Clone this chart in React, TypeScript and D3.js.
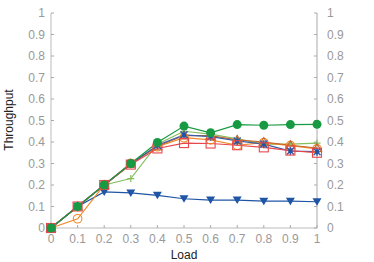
import { useEffect, useRef } from "react";
import * as d3 from "d3";

const loads = [0, 0.1, 0.2, 0.3, 0.4, 0.5, 0.6, 0.7, 0.8, 0.9, 1];
const yTicks = [0, 0.1, 0.2, 0.3, 0.4, 0.5, 0.6, 0.7, 0.8, 0.9, 1];

const blueTri = [0, 0.1, 0.168, 0.163, 0.152, 0.136, 0.13, 0.13, 0.125, 0.125, 0.122];
const greenDot = [0, 0.1, 0.2, 0.3, 0.398, 0.474, 0.443, 0.481, 0.478, 0.481, 0.482];
const lightGreenPlus = [0, 0.1, 0.2, 0.23, 0.39, 0.45, 0.437, 0.415, 0.39, 0.39, 0.395];
const orangeCircle = [0, 0.043, 0.2, 0.3, 0.378, 0.42, 0.41, 0.385, 0.397, 0.383, 0.368];
const blueStar = [0, 0.1, 0.2, 0.298, 0.385, 0.433, 0.425, 0.405, 0.39, 0.358, 0.355];
const brownTri = [0, 0.1, 0.2, 0.3, 0.38, 0.43, 0.43, 0.41, 0.4, 0.385, 0.372];
const redSquare = [0, 0.1, 0.2, 0.295, 0.37, 0.395, 0.393, 0.385, 0.375, 0.36, 0.35];

const App = () => {
    const ref = useRef<SVGSVGElement>(null);

    useEffect(() => {
        const svg = d3.select(ref.current);
        svg.selectAll("*").remove();

        const x = d3.scaleLinear().domain([0, 1]).range([51, 317]);
        const y = d3.scaleLinear().domain([0, 1]).range([228, 13]);
        const grey = "#999";
        const font = "Liberation Sans, Arial, sans-serif";

        // frame: left, bottom, right
        svg.append("line").attr("x1", 51).attr("x2", 51).attr("y1", 13).attr("y2", 228)
            .attr("stroke", "#bbb").attr("stroke-width", 1);
        svg.append("line").attr("x1", 51).attr("x2", 317).attr("y1", 228).attr("y2", 228)
            .attr("stroke", "#bbb").attr("stroke-width", 1);
        svg.append("line").attr("x1", 317).attr("x2", 317).attr("y1", 13).attr("y2", 228)
            .attr("stroke", "#d4d4d4").attr("stroke-width", 2);

        yTicks.forEach(t => {
            svg.append("line").attr("x1", 51).attr("x2", 54).attr("y1", y(t)).attr("y2", y(t)).attr("stroke", "#aaa");
            svg.append("line").attr("x1", 314).attr("x2", 317).attr("y1", y(t)).attr("y2", y(t)).attr("stroke", "#aaa");
            svg.append("text").attr("x", 45).attr("y", y(t)).attr("dy", "0.35em")
                .attr("text-anchor", "end").attr("fill", grey)
                .style("font-family", font).style("font-size", "12px").text(String(t));
            svg.append("text").attr("x", 327).attr("y", y(t)).attr("dy", "0.35em")
                .attr("text-anchor", "start").attr("fill", grey)
                .style("font-family", font).style("font-size", "12px").text(String(t));
        });
        loads.forEach(t => {
            svg.append("line").attr("x1", x(t)).attr("x2", x(t)).attr("y1", 225).attr("y2", 228).attr("stroke", "#aaa");
            svg.append("text").attr("x", x(t)).attr("y", 243).attr("text-anchor", "middle")
                .attr("fill", grey).style("font-family", font).style("font-size", "12px").text(String(t));
        });

        svg.append("text").attr("x", 184).attr("y", 259).attr("text-anchor", "middle")
            .attr("fill", "#222").style("font-family", font).style("font-size", "12px").text("Load");
        svg.append("text").attr("transform", "translate(13,120) rotate(-90)")
            .attr("text-anchor", "middle").attr("fill", "#222")
            .style("font-family", font).style("font-size", "12px").text("Throughput");

        const line = d3.line<number>().x((d, i) => x(loads[i])).y(d => y(d));

        const series = [
            { data: blueTri, color: "#1f55a5", marker: "triDown" },
            { data: lightGreenPlus, color: "#86bd5e", marker: "plus" },
            { data: orangeCircle, color: "#f0892a", marker: "circleOpen" },
            { data: brownTri, color: "#c6642c", marker: "triUp" },
            { data: blueStar, color: "#3a5fa8", marker: "star" },
            { data: redSquare, color: "#e8474c", marker: "square" },
            { data: greenDot, color: "#179a42", marker: "circle" },
        ];

        series.forEach(s => {
            svg.append("path").datum(s.data).attr("d", line)
                .attr("fill", "none").attr("stroke", s.color).attr("stroke-width", 1.2);
        });

        series.forEach(s => {
            const g = svg.append("g");
            s.data.forEach((v, i) => {
                const cx = x(loads[i]);
                const cy = y(v);
                if (s.marker === "circle") {
                    g.append("circle").attr("cx", cx).attr("cy", cy).attr("r", 4.5).attr("fill", s.color);
                } else if (s.marker === "circleOpen") {
                    g.append("circle").attr("cx", cx).attr("cy", cy).attr("r", 4.3)
                        .attr("fill", "none").attr("stroke", s.color).attr("stroke-width", 1.1);
                } else if (s.marker === "triDown") {
                    g.append("path").attr("d", `M${cx - 4.5},${cy - 3.5}L${cx + 4.5},${cy - 3.5}L${cx},${cy + 4}Z`)
                        .attr("fill", s.color);
                } else if (s.marker === "triUp") {
                    g.append("path").attr("d", `M${cx - 4.5},${cy + 3.5}L${cx + 4.5},${cy + 3.5}L${cx},${cy - 4.5}Z`)
                        .attr("fill", "none").attr("stroke", s.color).attr("stroke-width", 1.1);
                } else if (s.marker === "plus") {
                    g.append("path").attr("d", `M${cx - 3.5},${cy}L${cx + 3.5},${cy}M${cx},${cy - 3.5}L${cx},${cy + 3.5}`)
                        .attr("stroke", s.color).attr("stroke-width", 1.2);
                } else if (s.marker === "star") {
                    g.append("path").attr("d", `M${cx - 3.5},${cy - 3.5}L${cx + 3.5},${cy + 3.5}M${cx - 3.5},${cy + 3.5}L${cx + 3.5},${cy - 3.5}M${cx},${cy - 4}L${cx},${cy + 4}`)
                        .attr("stroke", s.color).attr("stroke-width", 1.5);
                    g.append("circle").attr("cx", cx).attr("cy", cy).attr("r", 2.2).attr("fill", "#1f55a5");
                } else if (s.marker === "square") {
                    g.append("rect").attr("x", cx - 4.5).attr("y", cy - 4.5).attr("width", 9).attr("height", 9)
                        .attr("fill", "none").attr("stroke", s.color).attr("stroke-width", 1.1);
                }
            });
        });
    }, []);

    return (
        <svg ref={ref} width={374} height={262}
            style={{ position: "absolute", left: 0, top: 0, background: "#fff" }}></svg>
    );
};

export default App;
